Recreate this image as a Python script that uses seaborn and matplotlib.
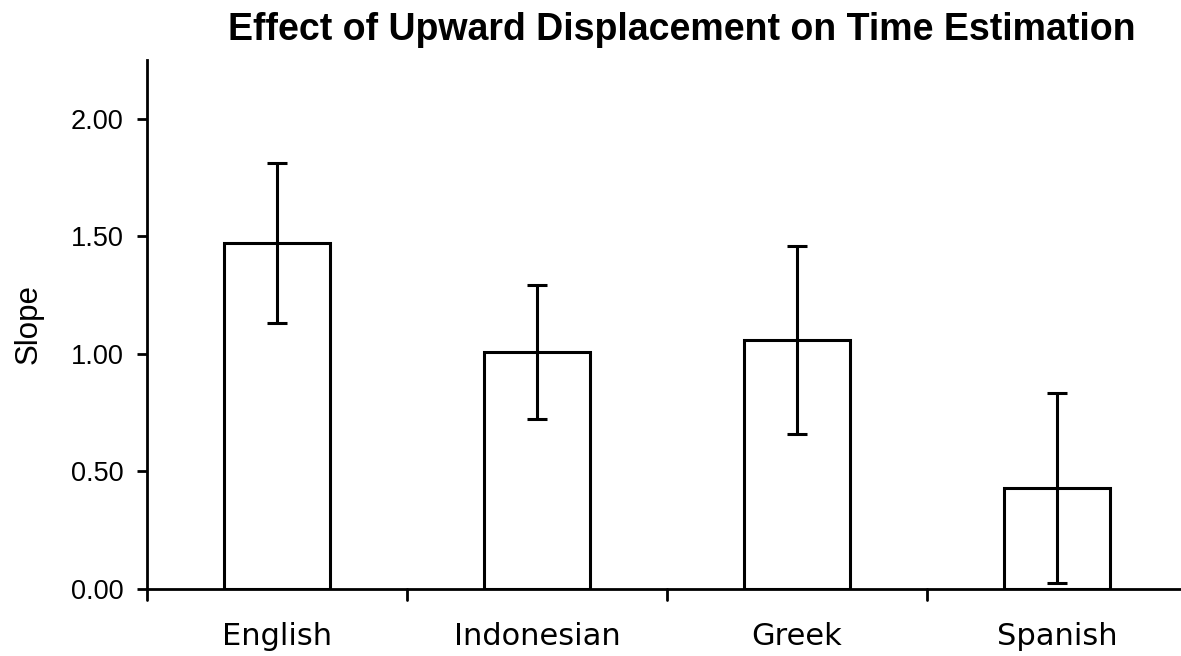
import matplotlib
matplotlib.use("Agg")
import matplotlib.pyplot as plt
import seaborn as sns
import pandas as pd

languages = ["English", "Indonesian", "Greek", "Spanish"]
slopes = [1.47, 1.01, 1.06, 0.43]
errors = [0.34, 0.285, 0.40, 0.405]
y_ticks = [0.0, 0.5, 1.0, 1.5, 2.0]
y_tick_labels = ["0.00", "0.50", "1.00", "1.50", "2.00"]

df = pd.DataFrame({"Language": languages, "Slope": slopes})

sns.set_theme(style="ticks")
plt.rcParams["font.family"] = ["DejaVu Sans"]
plt.rcParams.update({
    "text.color": "black",
    "axes.labelcolor": "black",
    "xtick.color": "black",
    "ytick.color": "black",
    "axes.edgecolor": "black",
})

fig = plt.figure(figsize=(11.81, 6.56), dpi=100)
ax = fig.add_axes([147 / 1181, 1 - 589 / 656, 1040 / 1181, 529 / 656])

sns.barplot(data=df, x="Language", y="Slope", ax=ax, color="white",
            edgecolor="black", linewidth=2.2, width=0.41, errorbar=None)
ax.errorbar(range(len(languages)), slopes, yerr=errors, fmt="none",
            ecolor="black", elinewidth=2.2, capsize=7, capthick=2.2)

ax.set_xlim(-0.5, 3.5)
ax.set_ylim(0, 2.25)
ax.set_yticks(y_ticks)
ax.set_yticklabels(y_tick_labels, fontfamily="Liberation Sans", fontsize=19.5)
ax.set_xticks([0, 1, 2, 3])
ax.set_xticklabels(languages, fontsize=22)
ax.tick_params(axis="x", length=0, pad=24)
ax.tick_params(axis="y", length=7, width=2, direction="out", pad=10)
# boundary ticks between categories
for b in [-0.5, 0.5, 1.5, 2.5]:
    ax.plot([b, b], [0, -0.045], color="black", lw=2, clip_on=False)

for side in ["top", "right"]:
    ax.spines[side].set_visible(False)
for side in ["left", "bottom"]:
    ax.spines[side].set_linewidth(2)

ax.set_xlabel("")
ax.set_ylabel("Slope", fontfamily="Liberation Sans", fontsize=22.5)
ax.yaxis.set_label_coords(-0.099, 0.5)
fig.text(682 / 1181, 1 - 30 / 656, "Effect of Upward Displacement on Time Estimation",
         ha="center", va="center", fontfamily="Liberation Sans", fontweight="bold",
         fontsize=27)

fig.savefig("out.png", dpi=100, facecolor="white")
